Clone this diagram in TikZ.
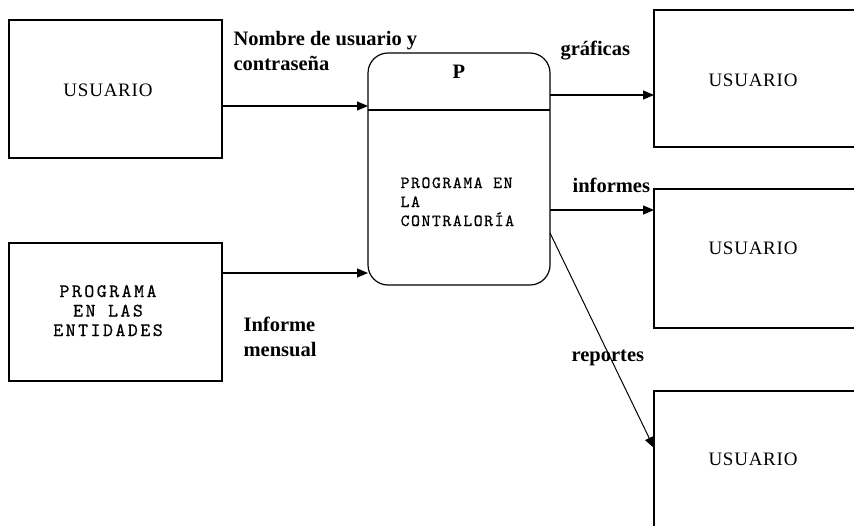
\documentclass[tikz,border=0pt]{standalone}
\usepackage{fontspec}
\setmainfont{Liberation Serif}
\newfontfamily\monof{lmmono10-regular.otf}[LetterSpace=9,FakeBold=0.6]
\newfontfamily\monog{lmmono10-regular.otf}[LetterSpace=13,FakeBold=0.6]
\newfontfamily\usuf{Liberation Serif}[LetterSpace=4]
\usetikzlibrary{arrows.meta}
\begin{document}
\begin{tikzpicture}[x=1pt,y=-1pt,
  line width=1.2pt,
  box/.style={draw,inner sep=0pt,outer sep=0pt},
  arr/.style={-{Triangle[length=11pt,width=9pt]}},
  lbl/.style={font=\fontsize{20.5}{25}\selectfont\bfseries,inner sep=0pt},
  usu/.style={font=\fontsize{19}{22}\usuf,inner sep=0pt},
  mono/.style={font=\fontsize{17}{19}\monof,inner sep=0pt}]
\useasboundingbox (0,0) rectangle (854,525);
\fill[white] (0,0) rectangle (854,525);
\clip (0,0) rectangle (854,525);
% left boxes
\node[box,minimum width=213pt,minimum height=138pt] (b1) at (115.5,89) {};
\node[usu] (t1) at (108,90) {USUARIO};
\node[box,minimum width=213pt,minimum height=138pt] (b2) at (115.5,312) {};
\node[align=center,inner sep=0pt,font=\fontsize{19}{19.5}\monog,anchor=base] (t2) at (108,336) {PROGRAMA\\EN LAS\\ENTIDADES};
% process
\node[box,rounded corners=20pt,minimum width=182pt,minimum height=232pt] (proc) at (459,169) {};
\draw (proc.west |- 0,110) -- (proc.east |- 0,110);
\node[lbl,anchor=base] (p) at (459,78) {P};
\node[mono,align=left,anchor=base west] (pt) at (400,226) {PROGRAMA EN\\LA\\CONTRALORÍA};
% right boxes
\node[box,minimum width=240pt,minimum height=137pt] (ba) at (774,78.5) {};
\node[usu] (ta) at (753,80) {USUARIO};
\node[box,minimum width=240pt,minimum height=139pt] (bb) at (774,258.5) {};
\node[usu] (tb) at (753,248) {USUARIO};
\node[box,minimum width=240pt,minimum height=169pt] (bc) at (774,475.5) {};
\node[usu] (tc) at (753,459) {USUARIO};
% arrows
\draw[arr] (b1.east |- 0,106) -- (proc.west |- 0,106);
\draw[arr] (b2.east |- 0,273) -- (proc.west |- 0,273);
\draw[arr] (proc.east |- 0,95) -- (ba.west |- 0,95);
\draw[arr] (proc.east |- 0,210) -- (bb.west |- 0,210);
\draw[arr,line width=1pt] (proc.east |- 0,233) -- (bc.west |- 0,448);
% labels
\node[lbl,align=left,anchor=north west] (l1) at (233,31) {Nombre de usuario y\\contraseña};
\node[lbl,align=left,anchor=north west] (l2) at (243,316) {Informe\\mensual};
\node[lbl,anchor=base west] (l3) at (560,55) {gráficas};
\node[lbl,anchor=base west] (l4) at (572,192) {informes};
\node[lbl,anchor=base west] (l5) at (571,361) {reportes};
\end{tikzpicture}
\end{document}
